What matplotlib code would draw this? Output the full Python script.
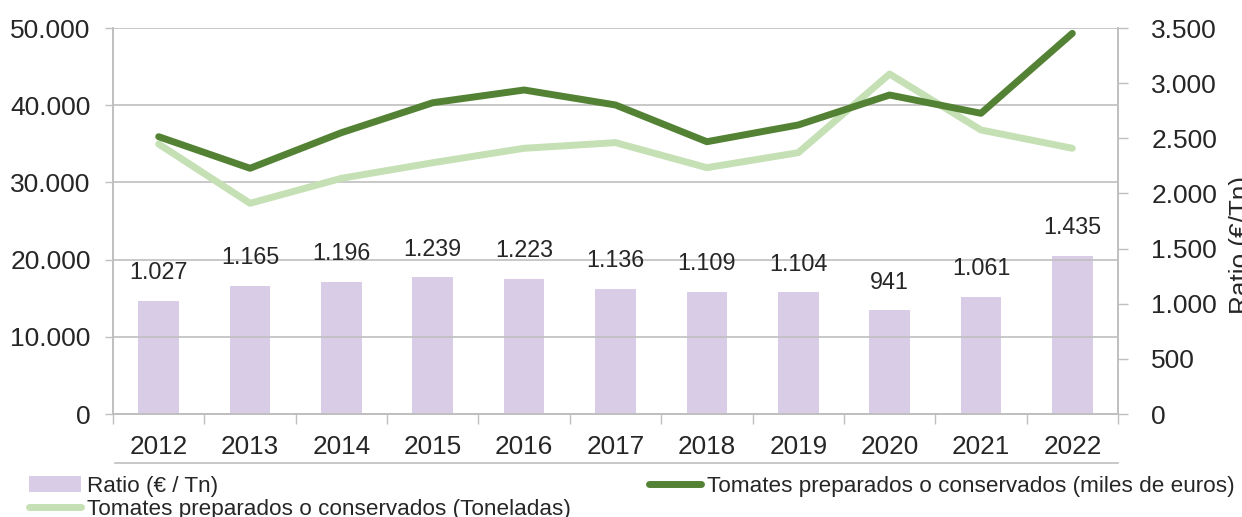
import numpy as np
import matplotlib.pyplot as plt
from matplotlib.lines import Line2D
from matplotlib.patches import Patch

plt.rcParams['font.family'] = ['Liberation Sans', 'DejaVu Sans']

# ---------------------------------------------------------------------
# Data
# ---------------------------------------------------------------------
years = ['2012', '2013', '2014', '2015', '2016', '2017',
         '2018', '2019', '2020', '2021', '2022']
ratio = [1027, 1165, 1196, 1239, 1223, 1136, 1109, 1104, 941, 1061, 1435]
miles_euros = [35920, 31830, 36440, 40320, 41970, 40030,
               35270, 37440, 41320, 38950, 49310]
toneladas = [34970, 27290, 30530, 32550, 34420, 35150,
             31910, 33850, 44040, 36790, 34420]

c_bar = '#D9CCE6'
c_dark = '#548235'
c_light = '#C5E0B4'
c_grid = '#BFBFBF'
c_text = '#262626'


def fmt(v):
    return f'{v:,.0f}'.replace(',', '.')


x = np.arange(len(years))

fig = plt.figure(figsize=(12.42, 5.17), dpi=100)
ax = fig.add_axes([113 / 1242, 1 - 414 / 517, (1118 - 113) / 1242, (414 - 28) / 517])
ax2 = ax.twinx()

# bars on the primary axes, shown on the right scale
ax.bar(x, ratio, width=0.445, color=c_bar, zorder=2)
ax.set_ylim(0, 3500)
ax.set_yticks(np.arange(0, 3501, 500))
ax.set_yticklabels([fmt(v) for v in np.arange(0, 3501, 500)])
ax.yaxis.tick_right()
ax.tick_params(axis='y', direction='out', length=7, width=1, color=c_grid,
               pad=17, labelsize=19, labelcolor=c_text)

# lines on the twin, shown on the left scale
ax2.plot(x, miles_euros, color=c_dark, lw=5, solid_capstyle='round',
         solid_joinstyle='round', zorder=4)
ax2.plot(x, toneladas, color=c_light, lw=5, solid_capstyle='round',
         solid_joinstyle='round', zorder=3)
ax2.set_ylim(0, 50000)
ax2.set_yticks(np.arange(0, 50001, 10000))
ax2.set_yticklabels([fmt(v) for v in np.arange(0, 50001, 10000)])
ax2.yaxis.tick_left()
ax2.tick_params(axis='y', direction='out', length=6, width=1, color=c_grid,
                pad=10, labelsize=19, labelcolor=c_text)
ax2.grid(axis='y', color=c_grid, lw=1.2, zorder=1)

# bar value labels drawn on the twin so they sit above the gridlines
for xi, v in zip(x, ratio):
    ax2.annotate(fmt(v), (xi, v), xycoords=ax.transData, xytext=(0, 12),
                 textcoords='offset points', ha='center', va='bottom',
                 fontsize=16.8, color=c_text, zorder=5)

ax.set_xlim(-0.5, len(years) - 0.5)
ax.set_xticks(x)
ax.set_xticklabels(years)
ax.set_xticks(np.arange(-0.5, len(years), 1.0), minor=True)
ax.tick_params(axis='x', which='major', length=0, pad=15, labelsize=18.8,
               labelcolor=c_text)
ax.tick_params(axis='x', which='minor', length=7, width=1, color=c_grid)
ax2.tick_params(axis='x', which='both', length=0)

for a in (ax, ax2):
    a.spines['top'].set_visible(False)
    for s in ('left', 'right', 'bottom'):
        a.spines[s].set_color(c_grid)
        a.spines[s].set_linewidth(1.2)

fig.text(1229 / 1242, 1 - 245 / 517, 'Ratio (€/Tn)', rotation=90,
         ha='left', va='center', fontsize=18.8, color=c_text)

# thin rule under the category labels
fig.add_artist(Line2D([115 / 1242, 1118 / 1242], [1 - 463 / 517, 1 - 463 / 517],
                      color=c_grid, lw=1.2))

handles = [
    Patch(facecolor=c_bar, edgecolor='none'),
    Line2D([], [], color=c_light, lw=5, solid_capstyle='round'),
    Line2D([], [], color=c_dark, lw=5, solid_capstyle='round'),
]
labels = ['Ratio (€ / Tn)',
          'Tomates preparados o conservados (Toneladas)',
          'Tomates preparados o conservados (miles de euros)']
fig.legend(handles, labels, loc='upper left', bbox_to_anchor=(29 / 1242, 1 - 476 / 517),
           ncol=2, frameon=False, fontsize=16.2, borderpad=0, borderaxespad=0,
           handlelength=2.3, handleheight=0.7, handletextpad=0.27,
           columnspacing=3.5, labelspacing=0.1, labelcolor=c_text)

fig.savefig('out.png', dpi=100)
